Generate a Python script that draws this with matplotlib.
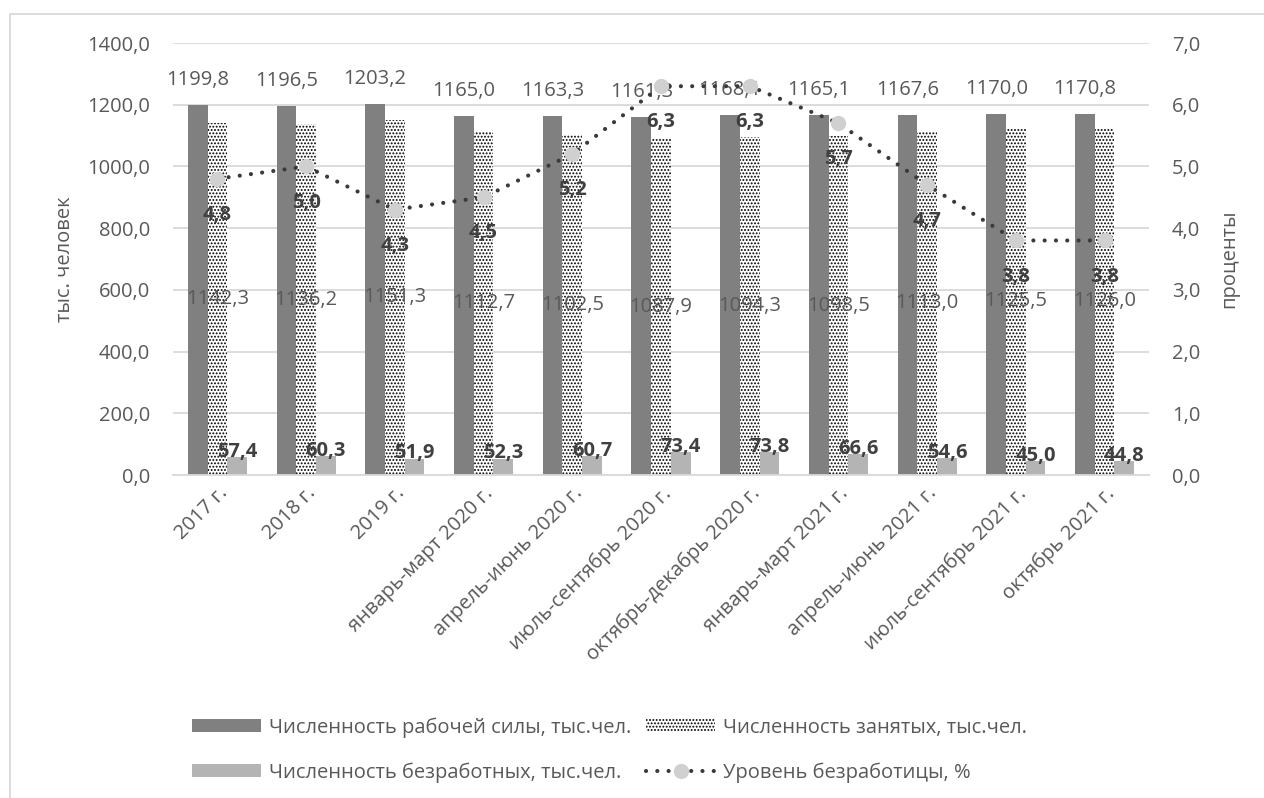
import matplotlib
matplotlib.use("Agg")
import matplotlib.pyplot as plt
import numpy as np
from matplotlib.lines import Line2D
from matplotlib.patches import Patch, Rectangle

plt.rcParams['font.family'] = ['Open Sans', 'DejaVu Sans']
plt.rcParams['hatch.linewidth'] = 0.9

categories = ["2017 г.", "2018 г.", "2019 г.", "январь-март 2020 г.", "апрель-июнь 2020 г.",
              "июль-сентябрь 2020 г.", "октябрь-декабрь 2020 г.", "январь-март 2021 г.",
              "апрель-июнь 2021 г.", "июль-сентябрь 2021 г.", "октябрь 2021 г."]
labor_force = [1199.8, 1196.5, 1203.2, 1165.0, 1163.3, 1161.3, 1168.1, 1165.1, 1167.6, 1170.0, 1170.8]
employed = [1142.3, 1136.2, 1151.3, 1112.7, 1102.5, 1087.9, 1094.3, 1098.5, 1113.0, 1125.5, 1126.0]
unemployed = [57.4, 60.3, 51.9, 52.3, 60.7, 73.4, 73.8, 66.6, 54.6, 45.0, 44.8]
rate = [4.8, 5.0, 4.3, 4.5, 5.2, 6.3, 6.3, 5.7, 4.7, 3.8, 3.8]

names = ["Численность рабочей силы, тыс.чел.", "Численность занятых, тыс.чел.",
         "Численность безработных, тыс.чел.", "Уровень безработицы, %"]

def fmt(v):
    return f"{v:.1f}".replace(".", ",")

TXT = "#595959"
BOLD = "#404040"
FS = 14.5
HATCH = "....."

W, H = 1264, 798
fig = plt.figure(figsize=(W / 100, H / 100), dpi=100)
ax = fig.add_axes([173 / W, 1 - 475 / H, (1149 - 173) / W, (475 - 43) / H])
ax2 = ax.twinx()

x = np.arange(len(categories))
bw = 0.222
ax.bar(x - bw, labor_force, bw, color="#808080", zorder=2)
ax.bar(x, employed, bw, facecolor="white", edgecolor="black", linewidth=0,
       hatch=HATCH, zorder=2)
ax.bar(x + bw, unemployed, bw, color="#b4b4b4", zorder=2)

ax.set_xlim(-0.5, len(categories) - 0.5)
ax.set_ylim(0, 1400)
ax.set_yticks(np.arange(0, 1401, 200))
ax.set_yticklabels([fmt(v) for v in np.arange(0, 1401, 200)])
ax.grid(axis="y", color="#d9d9d9", linewidth=1.3, zorder=0)
ax.set_axisbelow(True)
for s in ["top", "right", "left"]:
    ax.spines[s].set_visible(False)
ax.spines["bottom"].set_color("#d9d9d9")
ax.spines["bottom"].set_linewidth(1.3)
ax.tick_params(axis="both", length=0, colors=TXT, labelsize=FS)
ax.tick_params(axis="y", pad=16.5)
ax.set_xticks(x)
ax.set_xticklabels(categories, rotation=45, ha="right", rotation_mode="anchor")
ax.tick_params(axis="x", pad=6)
ax.set_ylabel("тыс. человек", color=TXT, fontsize=FS, labelpad=9)

for i in range(len(categories)):
    ax.annotate(fmt(labor_force[i]), (x[i] - bw, labor_force[i]), xytext=(0, 18),
                textcoords="offset points", ha="center", va="center", color=TXT, fontsize=FS, zorder=6)
    ax.annotate(fmt(employed[i]), (x[i], employed[i] / 2), ha="center", va="center",
                color=TXT, fontsize=FS, zorder=6)
    ax.annotate(fmt(unemployed[i]), (x[i] + bw, unemployed[i]), xytext=(0, 4),
                textcoords="offset points", ha="center", va="center", color=BOLD,
                fontsize=FS, fontweight="bold", zorder=6)

ax2.plot(x, rate, color="#3a3a3a", linewidth=3, linestyle=(0, (0.01, 2.7)),
         dash_capstyle="round", marker="o", markersize=11, markerfacecolor="#d0d0d0",
         markeredgewidth=0, zorder=4)
for i in range(len(categories)):
    ax2.annotate(fmt(rate[i]), (x[i], rate[i]), xytext=(0, -26), textcoords="offset points",
                 ha="center", va="center", color=BOLD, fontsize=FS, fontweight="bold", zorder=6)
ax2.set_ylim(0, 7)
ax2.set_yticks(np.arange(0, 8, 1))
ax2.set_yticklabels([fmt(v) for v in np.arange(0, 8, 1)])
for s in ax2.spines.values():
    s.set_visible(False)
ax2.tick_params(axis="y", length=0, colors=TXT, labelsize=FS, pad=16.5)
ax2.set_ylabel("проценты", color=TXT, fontsize=FS, labelpad=14)
ax.set_zorder(ax2.get_zorder() - 1)
ax.patch.set_visible(True)
ax2.patch.set_visible(False)

handles = [Patch(facecolor="#808080"),
           Patch(facecolor="#b4b4b4"),
           Patch(facecolor="white", edgecolor="black", linewidth=0, hatch=HATCH),
           Line2D([], [], color="#3a3a3a", linewidth=3, linestyle=(0, (0.01, 2.7)),
                  dash_capstyle="round", marker="o", markersize=11,
                  markerfacecolor="#d0d0d0", markeredgewidth=0)]
labels = [names[0], names[2], names[1], names[3]]
leg = fig.legend(handles, labels, ncol=2, loc="center left",
                 bbox_to_anchor=(192 / W, 1 - 750 / H), frameon=False, fontsize=FS,
                 handlelength=3.45, handleheight=0.6, labelspacing=1.2, columnspacing=0.75,
                 handletextpad=0.35, borderpad=0, borderaxespad=0)
for t in leg.get_texts():
    t.set_color(TXT)

fig.patches.append(Rectangle((10 / W, -0.01), 1.1, 1 - 14 / H + 0.01, transform=fig.transFigure,
                             fill=False, edgecolor="#d9d9d9", linewidth=1.3))

fig.savefig("out.png", dpi=100)
